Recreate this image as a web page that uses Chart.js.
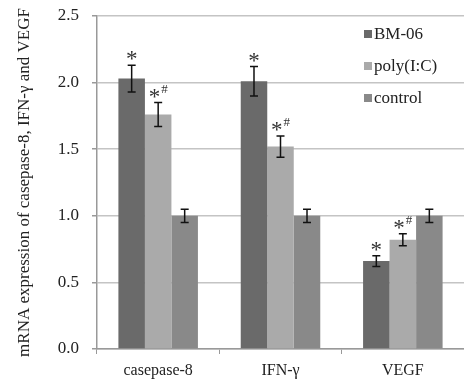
<!DOCTYPE html>
<html>
<head>
<meta charset="utf-8">
<script src="https://cdn.jsdelivr.net/npm/chart.js@4"></script>
<style>
  html, body { margin: 0; padding: 0; background: #fff; }
  #wrap { width: 464px; height: 386px; }
</style>
</head>
<body>
<div id="wrap"><canvas id="chart" width="464" height="386"></canvas></div>
<script>
// categories and series
const genes = ['casepase-8', 'IFN-\u03b3', 'VEGF'];
const seriesNames = ['BM-06', 'poly(I:C)', 'control'];
const bm06 = [2.03, 2.01, 0.66];
const polyIC = [1.76, 1.52, 0.82];
const control = [1.0, 1.0, 1.0];
const bm06Err = [0.10, 0.11, 0.04];
const polyErr = [0.09, 0.08, 0.045];
const controlErr = [0.05, 0.05, 0.05];
const bm06Marks = ['*', '*', '*'];
const polyMarks = ['*#', '*#', '*#'];
const controlMarks = ['', '', ''];
const yTicks = [0, 0.5, 1.0, 1.5, 2.0, 2.5];

const colors = ['#6a6a6a', '#aaaaaa', '#898989'];
const serif = '"Liberation Serif", "DejaVu Serif", serif';

// error bars + significance marks
const errorBarPlugin = {
    id: 'errorBars',
    afterDatasetsDraw(chart) {
        const ctx = chart.ctx;
        const y = chart.scales.y;
        chart.data.datasets.forEach(function (ds, di) {
            const meta = chart.getDatasetMeta(di);
            meta.data.forEach(function (bar, i) {
                const v = ds.data[i];
                const e = ds.errors[i];
                const top = y.getPixelForValue(v + e);
                const bot = y.getPixelForValue(v - e);
                ctx.save();
                ctx.strokeStyle = '#111';
                ctx.lineWidth = 1.5;
                ctx.beginPath();
                ctx.moveTo(bar.x, top); ctx.lineTo(bar.x, bot);
                ctx.moveTo(bar.x - 4, top); ctx.lineTo(bar.x + 4, top);
                ctx.moveTo(bar.x - 4, bot); ctx.lineTo(bar.x + 4, bot);
                ctx.stroke();

                const mark = ds.marks[i];
                if (mark) {
                    ctx.fillStyle = '#333';
                    ctx.textBaseline = 'alphabetic';
                    ctx.font = '23px ' + serif;
                    const starW = ctx.measureText('*').width;
                    let hashW = 0;
                    if (mark.indexOf('#') >= 0) {
                        ctx.font = '13px ' + serif;
                        hashW = ctx.measureText('#').width + 1;
                    }
                    const x0 = bar.x - (starW + hashW) / 2;
                    ctx.font = '23px ' + serif;
                    ctx.textAlign = 'left';
                    ctx.fillText('*', x0, top + 1);
                    if (hashW) {
                        ctx.font = '13px ' + serif;
                        ctx.fillText('#', x0 + starW + 1, top - 10);
                    }
                }
                ctx.restore();
            });
        });
    }
};

// legend drawn inside the plot, top right
const innerLegend = {
    id: 'innerLegend',
    afterDraw(chart) {
        const ctx = chart.ctx;
        ctx.save();
        ctx.font = '17px ' + serif;
        ctx.textBaseline = 'middle';
        chart.data.datasets.forEach(function (ds, i) {
            const yy = 34 + i * 32;
            ctx.fillStyle = ds.backgroundColor;
            ctx.fillRect(364, yy - 4, 8, 8);
            ctx.fillStyle = '#222';
            ctx.fillText(ds.label, 374, yy + 1);
        });
        ctx.restore();
    }
};

new Chart(document.getElementById('chart'), {
    type: 'bar',
    data: {
        labels: genes,
        datasets: [
            { label: seriesNames[0], data: bm06, errors: bm06Err, marks: bm06Marks, backgroundColor: colors[0] },
            { label: seriesNames[1], data: polyIC, errors: polyErr, marks: polyMarks, backgroundColor: colors[1] },
            { label: seriesNames[2], data: control, errors: controlErr, marks: controlMarks, backgroundColor: colors[2] }
        ]
    },
    options: {
        responsive: false,
        animation: false,
        devicePixelRatio: 1,
        layout: { padding: { top: 16, right: 0, left: 14, bottom: 0 } },
        datasets: { bar: { categoryPercentage: 0.65, barPercentage: 1.0 } },
        plugins: { legend: { display: false }, tooltip: { enabled: false } },
        scales: {
            x: {
                grid: { drawOnChartArea: false, drawTicks: true, tickLength: 5, color: '#999', offset: true },
                border: { color: '#999', width: 1.5 },
                ticks: { color: '#222', font: { family: serif, size: 16 }, padding: 7 },
                afterFit: function (s) { s.height = 37; s.paddingLeft = 0; s.paddingRight = 0; }
            },
            y: {
                min: 0, max: 2.5,
                afterBuildTicks: function (s) { s.ticks = yTicks.map(function (v) { return { value: v }; }); },
                grid: { color: '#c4c4c4', lineWidth: 1.5, tickLength: 5, tickColor: '#999' },
                border: { color: '#999', width: 1.5 },
                ticks: {
                    color: '#222', padding: 13,
                    font: { family: serif, size: 17 },
                    callback: function (v) { return Number(v).toFixed(1); }
                },
                title: {
                    display: true,
                    text: 'mRNA expression of casepase-8, IFN-\u03b3 and VEGF',
                    color: '#222',
                    font: { family: serif, size: 17 },
                    padding: { top: 0, bottom: 0 }
                },
                afterFit: function (s) { s.width = 83; s.paddingTop = 0; s.paddingBottom = 0; }
            }
        }
    },
    plugins: [errorBarPlugin, innerLegend]
});
</script>
</body>
</html>
